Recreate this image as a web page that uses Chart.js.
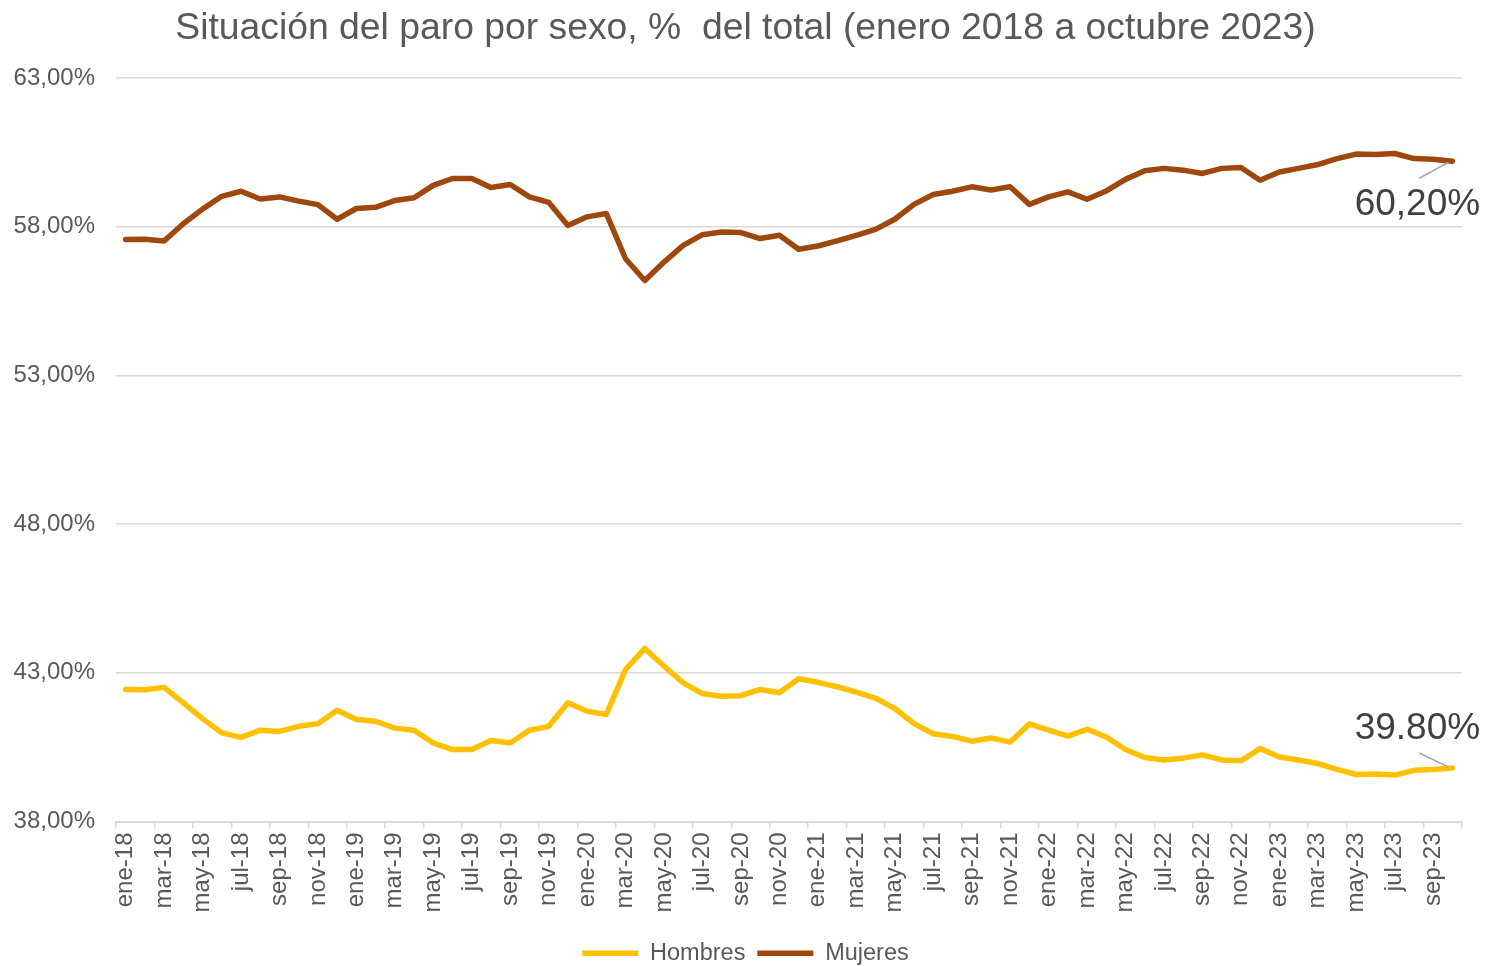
<!DOCTYPE html>
<html>
<head>
<meta charset="utf-8">
<script src="https://cdn.jsdelivr.net/npm/chart.js@4"></script>
<style>
  html, body { margin: 0; padding: 0; background: #fff; }
  #wrap { width: 1491px; height: 966px; }
</style>
</head>
<body>
<div id="wrap"><canvas id="grafico_paro" width="1491" height="966"></canvas></div>
<script>
const meses = ['ene', 'feb', 'mar', 'abr', 'may', 'jun', 'jul', 'ago', 'sep', 'oct', 'nov', 'dic'];
const anios = ['18', '19', '20', '21', '22', '23'];

const etiquetas = [];
anios.forEach((a) => {
    meses.forEach((m) => etiquetas.push(m + '-' + a));
});
etiquetas.length = 70; // ene-18 .. oct-23

const hombres = [
    42.44, 42.43, 42.51, 41.99, 41.46, 40.98, 40.83, 41.07, 41.03, 41.20,
    41.29, 41.74, 41.43, 41.37, 41.14, 41.07, 40.64, 40.42, 40.42, 40.72,
    40.64, 41.07, 41.20, 41.99, 41.71, 41.60, 43.11, 43.82, 43.22, 42.66,
    42.30, 42.21, 42.23, 42.44, 42.33, 42.80, 42.68, 42.53, 42.35, 42.15,
    41.80, 41.29, 40.95, 40.86, 40.70, 40.81, 40.67, 41.28, 41.07, 40.87,
    41.10, 40.84, 40.42, 40.15, 40.07, 40.13, 40.24, 40.07, 40.04, 40.45,
    40.17, 40.07, 39.95, 39.75, 39.58, 39.60, 39.56, 39.72, 39.75, 39.80
];

const mujeres = [
    57.57, 57.58, 57.52, 58.10, 58.59, 59.02, 59.19, 58.93, 59.00, 58.86,
    58.74, 58.25, 58.61, 58.65, 58.88, 58.97, 59.39, 59.62, 59.62, 59.32,
    59.42, 59.00, 58.82, 58.04, 58.33, 58.44, 56.92, 56.19, 56.81, 57.37,
    57.73, 57.82, 57.80, 57.60, 57.71, 57.24, 57.35, 57.52, 57.71, 57.91,
    58.25, 58.75, 59.08, 59.19, 59.34, 59.23, 59.34, 58.75, 59.00, 59.17,
    58.92, 59.20, 59.59, 59.88, 59.96, 59.90, 59.79, 59.96, 59.99, 59.56,
    59.84, 59.96, 60.09, 60.29, 60.44, 60.43, 60.46, 60.29, 60.27, 60.20
];

const etiquetasFinales = ['39.80%', '60,20%'];

const gris = '#595959';
const corGrade = '#d9d9d9';
const fonte = '"Liberation Sans", Arial, sans-serif';

// rotulo do ultimo ponto com linha guia
const rotuloFinal = {
    id: 'rotuloFinal',
    afterDatasetsDraw(chart) {
        const ctx = chart.ctx;
        chart.data.datasets.forEach((ds, i) => {
            const meta = chart.getDatasetMeta(i);
            const pt = meta.data[meta.data.length - 1];
            const abaixo = i === 1;
            ctx.save();
            ctx.strokeStyle = '#a6a6a6';
            ctx.lineWidth = 1.5;
            ctx.beginPath();
            if (abaixo) {
                ctx.moveTo(pt.x - 33, pt.y + 17);
                ctx.lineTo(pt.x - 4, pt.y + 1);
            } else {
                ctx.moveTo(pt.x - 33, pt.y - 15);
                ctx.lineTo(pt.x - 4, pt.y - 1);
            }
            ctx.stroke();
            ctx.fillStyle = '#404040';
            ctx.font = '37px ' + fonte;
            ctx.textAlign = 'center';
            ctx.textBaseline = 'middle';
            ctx.fillText(etiquetasFinales[i], pt.x - 35, abaixo ? pt.y + 44 : pt.y - 39);
            ctx.restore();
        });
    }
};

new Chart(document.getElementById('grafico_paro').getContext('2d'), {
    type: 'line',
    data: {
        labels: etiquetas,
        datasets: [{
            label: 'Hombres',
            data: hombres,
            borderColor: '#FFC000',
            backgroundColor: '#FFC000',
            borderWidth: 5.5,
            pointRadius: 0,
            pointStyle: 'line',
            tension: 0,
            borderJoinStyle: 'round',
            borderCapStyle: 'round'
        }, {
            label: 'Mujeres',
            data: mujeres,
            borderColor: '#9E480E',
            backgroundColor: '#9E480E',
            borderWidth: 5.5,
            pointRadius: 0,
            pointStyle: 'line',
            tension: 0,
            borderJoinStyle: 'round',
            borderCapStyle: 'round'
        }]
    },
    options: {
        responsive: false,
        animation: false,
        layout: {
            padding: { left: 0, right: 0, top: 0, bottom: -9 }
        },
        plugins: {
            title: {
                display: true,
                text: 'Situación del paro por sexo, %  del total (enero 2018 a octubre 2023)',
                color: gris,
                font: { family: fonte, size: 37.3, weight: 'normal' },
                padding: { top: 6, bottom: 27.2 }
            },
            legend: {
                position: 'bottom',
                labels: {
                    usePointStyle: true,
                    pointStyleWidth: 56,
                    color: gris,
                    padding: 12,
                    font: { family: fonte, size: 23.5 }
                }
            },
            tooltip: { enabled: false }
        },
        scales: {
            x: {
                offset: true,
                grid: {
                    offset: true,
                    drawOnChartArea: false,
                    tickLength: 7,
                    lineWidth: 1.5,
                    color: (c) => (c.index === undefined || c.index % 2 === 0) ? corGrade : 'rgba(0,0,0,0)'
                },
                border: { display: true, color: corGrade, width: 2 },
                ticks: {
                    autoSkip: false,
                    maxRotation: 90,
                    minRotation: 90,
                    padding: 4,
                    color: gris,
                    font: { family: fonte, size: 24 },
                    callback: function(value, index) {
                        return index % 2 === 0 ? this.getLabelForValue(value) : '';
                    }
                },
                afterFit: (s) => { s.height = 108; }
            },
            y: {
                min: 38,
                max: 63,
                grid: { color: corGrade, lineWidth: 1.5, drawTicks: false },
                border: { display: false },
                ticks: {
                    stepSize: 5,
                    padding: 21,
                    color: gris,
                    font: { family: fonte, size: 24 },
                    callback: (v) => v.toFixed(2).replace('.', ',') + '%'
                },
                afterFit: (s) => { s.width = 116; }
            },
            // margem direita vazia (so para reservar espaco)
            margemDir: {
                type: 'linear',
                position: 'right',
                grid: { display: false },
                border: { display: false },
                ticks: { display: false },
                afterFit: (s) => { s.width = 29; }
            }
        }
    },
    plugins: [rotuloFinal]
});
</script>
</body>
</html>
